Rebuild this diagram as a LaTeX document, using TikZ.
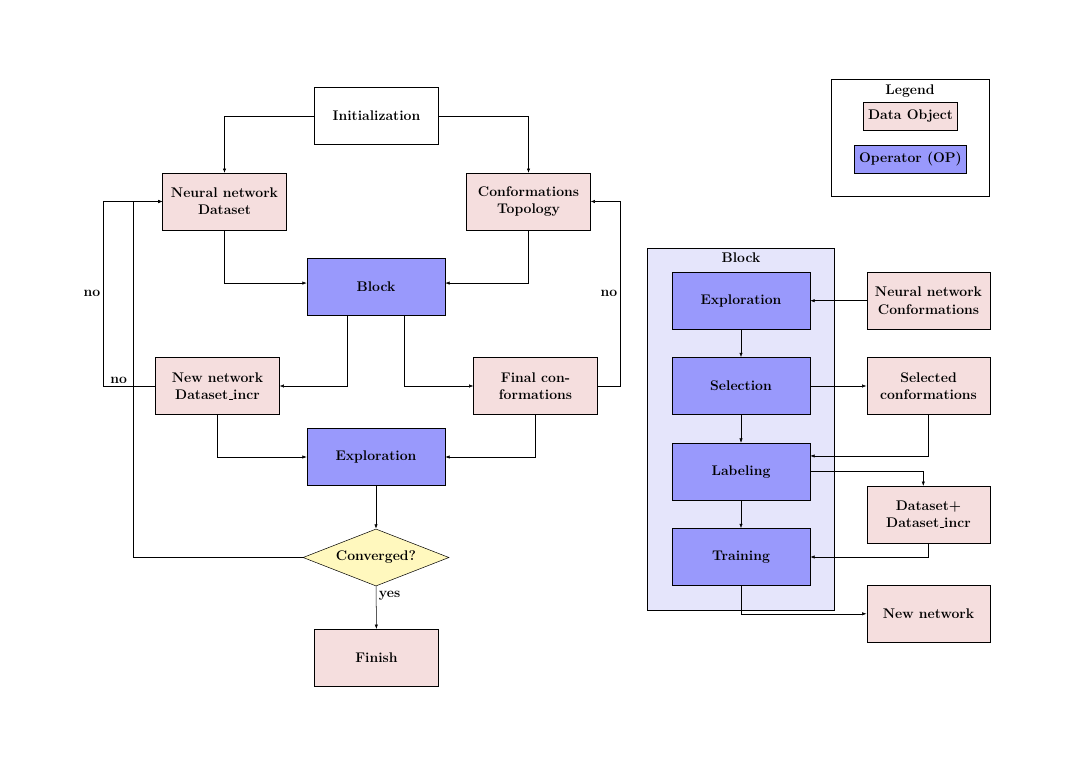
\documentclass[tikz,border=0pt]{standalone}
\usetikzlibrary{shapes.geometric,arrows.meta}
\definecolor{datafill}{RGB}{245,222,222}
\definecolor{opfill}{RGB}{153,153,252}
\definecolor{blkfill}{RGB}{229,229,251}
\definecolor{decfill}{RGB}{255,248,190}
\newcommand\myus{\leavevmode\kern.06em\vbox{\hrule width.3em}}
\tikzset{
  every node/.style={font=\fontsize{11}{13.6}\selectfont\bfseries},
  databox/.style={draw, fill=datafill, align=center, minimum width=97.2pt, minimum height=44.5pt, inner sep=2pt},
  initbox/.style={draw, fill=white, align=center, minimum width=97.2pt, minimum height=44.5pt, inner sep=2pt},
  opbox/.style={draw, fill=opfill, align=center, minimum width=108.6pt, minimum height=44.9pt, inner sep=2pt},
  decbox/.style={draw, fill=decfill, diamond, aspect=2.56, inner sep=0pt, minimum width=114.9pt, minimum height=44.9pt},
  arr/.style={-{Latex[length=3.5pt,width=2.6pt]}},
  lbl/.style={inner sep=2pt}
}
\begin{document}
\begin{tikzpicture}[x=0.787pt,y=-0.787pt]
\path[use as bounding box] (0,0) rectangle (1070,766);

% ---------- left flowchart ----------
\node[initbox] (init) at (376.5,116) {Initialization};
\node[databox] (nn) at (224.5,201.5) {Neural network\\Dataset};
\node[databox] (conf) at (528.5,201.5) {Conformations\\Topology};
\node[opbox] (block) at (376,286.5) {Block};
\node[databox] (newnet) at (217.5,386) {New network\\Dataset\myus incr};
\node[databox] (final) at (535.5,386) {Final con-\\formations};
\node[opbox] (expl) at (376,457) {Exploration};
\node[decbox] (conv) at (376,557.5) {Converged?};
\node[databox] (finish) at (376.5,657.5) {Finish};

\coordinate (xo) at (103,0);
\coordinate (xi) at (133,0);
\coordinate (xr) at (620,0);

\draw[arr] (init.west) -| (nn.north);
\draw[arr] (init.east) -| (conf.north);
\draw[arr] (nn.south) |- ([yshift=2.7pt]block.west);
\draw[arr] (conf.south) |- ([yshift=2.7pt]block.east);
\draw[arr] ([xshift=-22.4pt]block.south) |- (newnet.east);
\draw[arr] ([xshift=22.4pt]block.south) |- (final.west);
\draw[arr] (newnet.west) -- node[lbl,above,pos=0.7]{no} (newnet.west -| xo) -- node[lbl,left]{no} (nn.west -| xo) -- (nn.west);
\draw[arr] (conv.west) -- (conv.west -| xi) -- (nn.west -| xi) -- (nn.west);
\draw[arr] (final.east) -- (final.east -| xr) -- node[lbl,left]{no} (conf.east -| xr) -- (conf.east);
\draw[arr] (newnet.south) |- (expl.west);
\draw[arr] (final.south) |- (expl.east);
\draw[arr] (expl) -- (conv);
\draw[arr] (conv) -- node[lbl,right,pos=0.22]{yes} (finish);

% ---------- legend ----------
\node[draw, minimum width=124.3pt, minimum height=92.1pt] (legend) at (910,137.5) {};
\node (legtitle) at (910,91) {Legend};
\node[draw, fill=datafill, minimum width=74.3pt, minimum height=22.4pt, inner sep=1pt] (legdata) at (910.5,116) {Data Object};
\node[draw, fill=opfill, minimum width=88.5pt, minimum height=22.4pt, inner sep=1pt] (legop) at (910.5,159) {Operator (OP)};

% ---------- block detail ----------
\node[draw, fill=blkfill, minimum width=147.2pt, minimum height=284.9pt] (blk) at (740.5,429) {};
\node (blktitle) at (741,258) {Block};
\node[opbox] (rexp) at (741,300.7) {Exploration};
\node[opbox] (rsel) at (741,386) {Selection};
\node[opbox] (rlab) at (741,471.6) {Labeling};
\node[opbox] (rtrain) at (741,557) {Training};
\node[databox] (nnc) at (928.5,300.7) {Neural network\\Conformations};
\node[databox] (selc) at (928.5,386) {Selected\\conformations};
\node[databox] (ds) at (928.5,514.5) {Dataset+\\Dataset\myus incr};
\node[databox] (newn) at (928.5,613.8) {New network};

\draw[arr] (nnc.west) -- (rexp.east);
\draw[arr] (rexp) -- (rsel);
\draw[arr] (rsel) -- (rlab);
\draw[arr] (rlab) -- (rtrain);
\draw[arr] (rsel.east) -- (selc.west);
\draw[arr] (selc.south) |- ([yshift=12.3pt]rlab.east);
\draw[arr] (rlab.east) -| ([xshift=-4.1pt]ds.north);
\draw[arr] (ds.south) |- (rtrain.east);
\draw[arr] (rtrain.south) |- (newn.west);
\end{tikzpicture}
\end{document}
